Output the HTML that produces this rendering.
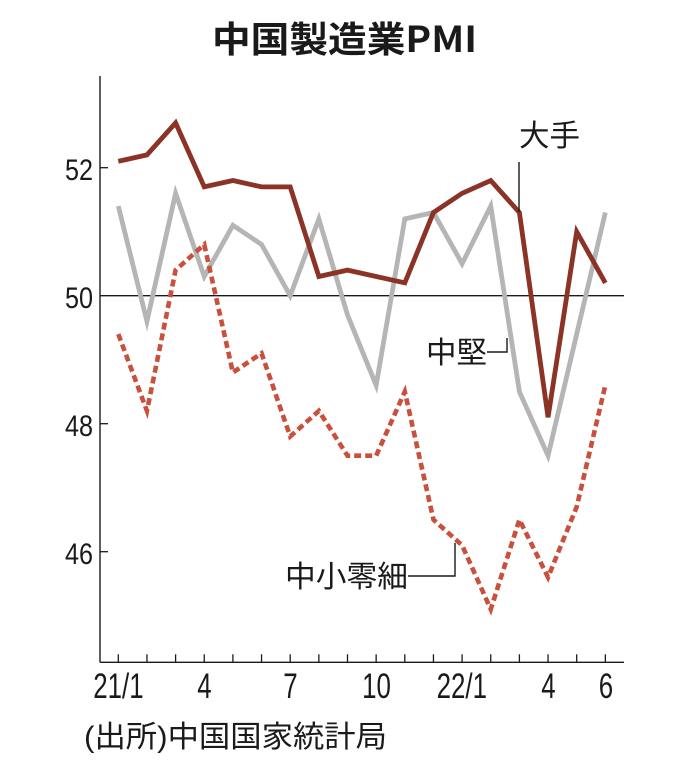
<!DOCTYPE html>
<html>
<head>
<meta charset="utf-8">
<style>
html,body{margin:0;padding:0;background:#fff;}
svg{display:block;}
text{font-family:"Liberation Sans","Noto Sans CJK JP",sans-serif;fill:#1a1a1a;}
.cjk{font-family:"Noto Sans CJK JP","Liberation Sans",sans-serif;}
</style>
</head>
<body>
<svg width="687" height="767" viewBox="0 0 687 767" xmlns="http://www.w3.org/2000/svg">
  <rect width="687" height="767" fill="#fff"/>
  <!-- title -->
  <text x="212" y="52" font-size="36" font-weight="bold" textLength="265" lengthAdjust="spacingAndGlyphs" style="font-family:'Noto Sans CJK JP','Liberation Sans',sans-serif;font-weight:bold">中国製造業PMI</text>

  <!-- 50 reference line -->
  <line x1="100" y1="295.7" x2="624" y2="295.7" stroke="#1a1a1a" stroke-width="1.3"/>

  <!-- axes -->
  <line x1="100" y1="76" x2="100" y2="662.3" stroke="#1a1a1a" stroke-width="1.4"/>
  <line x1="100" y1="662.3" x2="624" y2="662.3" stroke="#1a1a1a" stroke-width="1.4"/>

  <!-- y ticks -->
  <g stroke="#1a1a1a" stroke-width="1.3">
    <line x1="100" y1="167.7" x2="108" y2="167.7"/>
    <line x1="100" y1="423.7" x2="108" y2="423.7"/>
    <line x1="100" y1="551.7" x2="108" y2="551.7"/>
  </g>
  <!-- y labels -->
  <g font-size="30" text-anchor="end">
    <text x="93" y="180" textLength="28" lengthAdjust="spacingAndGlyphs">52</text>
    <text x="93" y="308" textLength="28" lengthAdjust="spacingAndGlyphs">50</text>
    <text x="93" y="436" textLength="28" lengthAdjust="spacingAndGlyphs">48</text>
    <text x="93" y="564" textLength="28" lengthAdjust="spacingAndGlyphs">46</text>
  </g>

  <!-- x ticks -->
  <g stroke="#1a1a1a" stroke-width="1.3">
    <line x1="118.3" y1="654.3" x2="118.3" y2="662.3"/>
    <line x1="146.95" y1="654.3" x2="146.95" y2="662.3"/>
    <line x1="175.6" y1="654.3" x2="175.6" y2="662.3"/>
    <line x1="204.25" y1="654.3" x2="204.25" y2="662.3"/>
    <line x1="232.9" y1="654.3" x2="232.9" y2="662.3"/>
    <line x1="261.55" y1="654.3" x2="261.55" y2="662.3"/>
    <line x1="290.2" y1="654.3" x2="290.2" y2="662.3"/>
    <line x1="318.85" y1="654.3" x2="318.85" y2="662.3"/>
    <line x1="347.5" y1="654.3" x2="347.5" y2="662.3"/>
    <line x1="376.15" y1="654.3" x2="376.15" y2="662.3"/>
    <line x1="404.8" y1="654.3" x2="404.8" y2="662.3"/>
    <line x1="433.45" y1="654.3" x2="433.45" y2="662.3"/>
    <line x1="462.1" y1="654.3" x2="462.1" y2="662.3"/>
    <line x1="490.75" y1="654.3" x2="490.75" y2="662.3"/>
    <line x1="519.4" y1="654.3" x2="519.4" y2="662.3"/>
    <line x1="548.05" y1="654.3" x2="548.05" y2="662.3"/>
    <line x1="576.7" y1="654.3" x2="576.7" y2="662.3"/>
    <line x1="605.35" y1="654.3" x2="605.35" y2="662.3"/>
  </g>
  <!-- x labels -->
  <g font-size="35" text-anchor="middle">
    <text transform="translate(118.4,698) scale(0.74,1)">21/1</text>
    <text transform="translate(204.5,698) scale(0.74,1)">4</text>
    <text transform="translate(290.5,698) scale(0.74,1)">7</text>
    <text transform="translate(376.5,698) scale(0.74,1)">10</text>
    <text transform="translate(461.8,698) scale(0.74,1)">22/1</text>
    <text transform="translate(548.5,698) scale(0.74,1)">4</text>
    <text transform="translate(606,698) scale(0.74,1)">6</text>
  </g>

  <!-- gray 中堅 -->
  <polyline fill="none" stroke="#b5b5b5" stroke-width="4.8" stroke-linejoin="miter" stroke-miterlimit="6"
    points="118.3,206.1 146.95,321.3 175.6,193.3 204.25,276.5 232.9,225.3 261.55,244.5 290.2,295.7 318.85,218.9 347.5,314.9 376.15,385.3 404.8,218.9 433.45,212.5 462.1,263.7 490.75,206.1 519.4,391.7 548.05,455.7 576.7,334.1 605.35,212.5"/>

  <!-- red 大手 -->
  <polyline fill="none" stroke="#8a3326" stroke-width="4.8" stroke-linejoin="miter" stroke-miterlimit="6"
    points="118.3,161.3 146.95,154.9 175.6,122.9 204.25,186.9 232.9,180.5 261.55,186.9 290.2,186.9 318.85,276.5 347.5,270.1 376.15,276.5 404.8,282.9 433.45,212.5 462.1,193.3 490.75,180.5 519.4,212.5 548.05,417.3 576.7,231.7 605.35,282.9"/>

  <!-- dashed 中小零細 -->
  <polyline fill="none" stroke="#c9503c" stroke-width="4.6" stroke-dasharray="7,4" stroke-linejoin="miter"
    points="118.3,334.1 146.95,410.9 175.6,270.1 204.25,244.5 232.9,372.5 261.55,353.3 290.2,436.5 318.85,410.9 347.5,455.7 376.15,455.7 404.8,391.7 433.45,519.7 462.1,545.3 490.75,609.3 519.4,519.7 548.05,577.3 576.7,506.9 605.35,385.3"/>

  <!-- leaders -->
  <g stroke="#1a1a1a" stroke-width="1.4" fill="none">
    <line x1="519" y1="162" x2="519" y2="212"/>
    <polyline points="487,352 507,352 507,338"/>
    <polyline points="408,576 455,576 455,543"/>
  </g>

  <!-- series labels -->
  <g font-size="30" class="cjk">
    <text x="519" y="146" class="cjk" textLength="61" lengthAdjust="spacingAndGlyphs">大手</text>
    <text x="426" y="363" class="cjk" textLength="61" lengthAdjust="spacingAndGlyphs">中堅</text>
    <text x="285" y="587" class="cjk" textLength="123" lengthAdjust="spacingAndGlyphs">中小零細</text>
  </g>

  <!-- source -->
  <text x="84" y="747" font-size="30" textLength="303" lengthAdjust="spacingAndGlyphs">(出所)中国国家統計局</text>
</svg>
</body>
</html>
